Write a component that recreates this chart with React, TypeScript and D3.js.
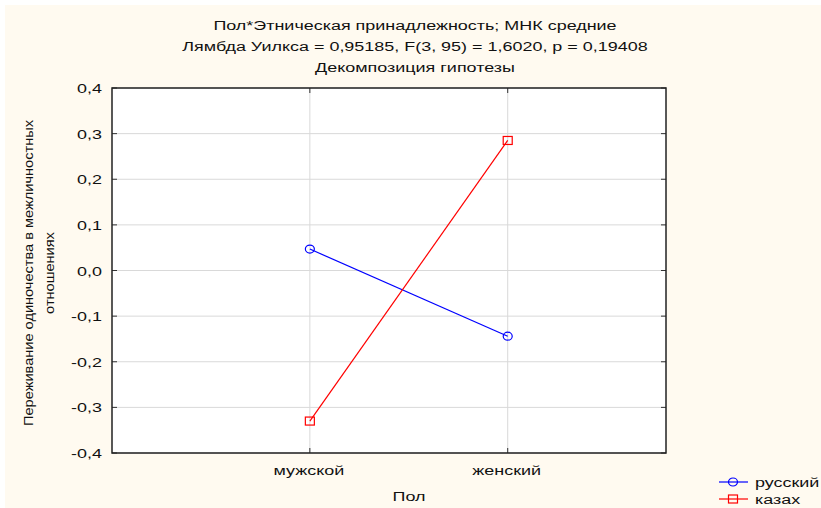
import React from "react";
import * as d3 from "d3";

const categories = ["мужской", "женский"];
const seriesNames = ["русский", "казах"];
const russianValues = [0.047, -0.144];
const kazakhValues = [-0.33, 0.285];
const yTicks = [-0.4, -0.3, -0.2, -0.1, 0, 0.1, 0.2, 0.3, 0.4];
const titleLines = [
  "Пол*Этническая принадлежность; МНК средние",
  "Лямбда Уилкса = 0,95185, F(3, 95) = 1,6020, p = 0,19408",
  "Декомпозиция гипотезы",
];
const yTitleLines = ["Переживание одиночества в межличностных", "отношениях"];
const xTitle = "Пол";

const W = 821;
const H = 508;
const plot = { left: 112, right: 666, top: 88, bottom: 453 };
const font = "Arial, 'Liberation Sans', sans-serif";
const FS = 13.5;
const SX = 1.33; // the source picture is stretched sideways

// horizontal text, widened like the original
const Txt = ({ x, y, anchor = "start", children }: any) => (
  <text
    transform={`translate(${x},${y}) scale(${SX},1)`}
    textAnchor={anchor}
    fontSize={FS}
    fill="#111"
  >
    {children}
  </text>
);

const App = () => {
  const x = d3.scaleLinear().domain([0, 2.8]).range([plot.left, plot.right]);
  const y = d3.scaleLinear().domain([-0.4, 0.4]).range([plot.bottom, plot.top]);
  const fmt = (v: number) => d3.format(".1f")(v).replace(".", ",").replace("−", "-");
  const line = d3
    .line<number>()
    .x((_, i) => x(i + 1))
    .y((d) => y(d));

  const series = [
    { name: seriesNames[0], values: russianValues, color: "#0000ff", marker: "circle" },
    { name: seriesNames[1], values: kazakhValues, color: "#ff0000", marker: "square" },
  ];

  const marker = (m: string, cx: number, cy: number, color: string, key: string) =>
    m === "circle" ? (
      <ellipse key={key} cx={cx} cy={cy} rx={4.5} ry={4} fill="none" stroke={color} strokeWidth={1.2} />
    ) : (
      <rect key={key} x={cx - 4.5} y={cy - 4} width={9} height={8} fill="none" stroke={color} strokeWidth={1.2} />
    );

  return (
    <svg
      width={W}
      height={H}
      style={{ position: "absolute", left: 0, top: 0 }}
      fontFamily={font}
    >
      <rect x={0} y={0} width={W} height={H} fill="#ffffff" />
      <rect x={5} y={5} width={W - 5} height={H - 5} fill="#fffaf0" />
      {titleLines.map((t, i) => (
        <Txt key={t} x={415} y={29.5 + i * 21.3} anchor="middle">
          {t}
        </Txt>
      ))}
      <rect
        x={plot.left}
        y={plot.top}
        width={plot.right - plot.left}
        height={plot.bottom - plot.top}
        fill="#ffffff"
      />
      {yTicks.map((t) => (
        <g key={t}>
          <line x1={plot.left} x2={plot.right} y1={y(t)} y2={y(t)} stroke="#d9d9d9" strokeWidth={1} />
          <line x1={plot.left} x2={plot.left + 5} y1={y(t)} y2={y(t)} stroke="#333" />
          <line x1={plot.right - 5} x2={plot.right} y1={y(t)} y2={y(t)} stroke="#333" />
          <Txt x={102} y={y(t) + 5} anchor="end">
            {fmt(t)}
          </Txt>
        </g>
      ))}
      {categories.map((c, i) => (
        <g key={c}>
          <line x1={x(i + 1)} x2={x(i + 1)} y1={plot.top} y2={plot.bottom} stroke="#d9d9d9" strokeWidth={1} />
          <line x1={x(i + 1)} x2={x(i + 1)} y1={plot.bottom - 5} y2={plot.bottom} stroke="#333" />
          <line x1={x(i + 1)} x2={x(i + 1)} y1={plot.top} y2={plot.top + 5} stroke="#333" />
          <Txt x={x(i + 1) - 1} y={475} anchor="middle">
            {c}
          </Txt>
        </g>
      ))}
      <rect
        x={plot.left}
        y={plot.top}
        width={plot.right - plot.left}
        height={plot.bottom - plot.top}
        fill="none"
        stroke="#222"
        strokeWidth={1.5}
      />
      {series.map((s) => (
        <g key={s.name}>
          <path d={line(s.values) || ""} fill="none" stroke={s.color} strokeWidth={1.2} />
          {s.values.map((v, i) => marker(s.marker, x(i + 1), y(v), s.color, s.name + i))}
        </g>
      ))}
      <Txt x={409} y={501} anchor="middle">
        {xTitle}
      </Txt>
      <g transform="translate(33, 273) rotate(-90) scale(1.08, 1)">
        {yTitleLines.map((t, i) => (
          <text key={t} x={0} y={i * 21} textAnchor="middle" fontSize={FS} fill="#111">
            {t}
          </text>
        ))}
      </g>
      {series.map((s, i) => (
        <g key={s.name} transform={`translate(0, ${482 + i * 17})`}>
          <line x1={719} x2={748} y1={0} y2={0} stroke={s.color} strokeWidth={1.2} />
          {marker(s.marker, 733, 0, s.color, s.name + "l")}
          <Txt x={755} y={5}>
            {s.name}
          </Txt>
        </g>
      ))}
    </svg>
  );
};

export default App;
